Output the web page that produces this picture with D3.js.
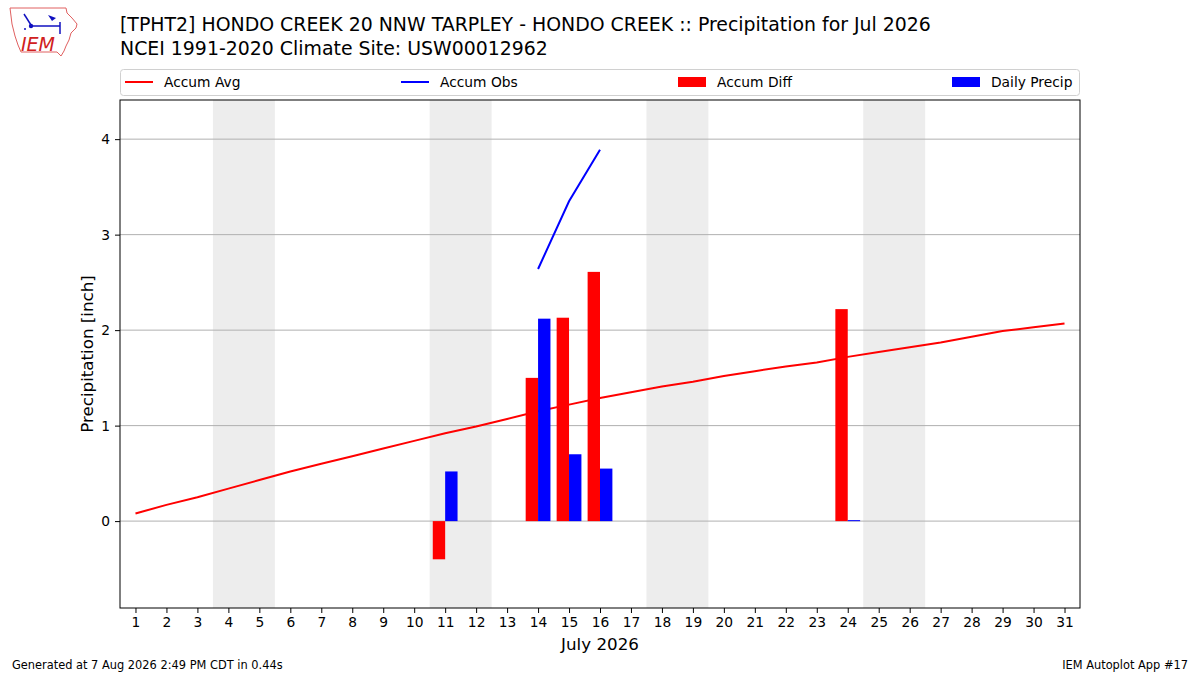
<!DOCTYPE html>
<html>
<head>
<meta charset="utf-8">
<script src="https://cdn.jsdelivr.net/npm/d3@7"></script>
<style>
  body { margin: 0; background: #fff; }
  svg text { font-family: "DejaVu Sans", sans-serif; }
</style>
</head>
<body>
<div id="chart"></div>
<script>
// days of July 2026
var days = d3.range(1, 32);
var accumAvg = [0.08, 0.17, 0.25, 0.34, 0.43, 0.52, 0.60, 0.68, 0.76, 0.84,
                0.92, 0.99, 1.07, 1.15, 1.22, 1.29, 1.35, 1.41, 1.46, 1.52,
                1.57, 1.62, 1.66, 1.72, 1.77, 1.82, 1.87, 1.93, 1.99, 2.03, 2.07];
var obsDays = [14, 15, 16];
var accumObs = [2.64, 3.35, 3.89];
var diffDays = [11, 14, 15, 16, 24];
var accumDiff = [-0.40, 1.50, 2.13, 2.61, 2.22];
var precipDays = [11, 14, 15, 16, 24];
var dailyPrecip = [0.52, 2.12, 0.70, 0.55, 0.01];
var weekends = [[4, 5], [11, 12], [18, 19], [25, 26]];
var yTicks = [0, 1, 2, 3, 4];

var width = 1200, height = 675;

var svg = d3.select("#chart").append("svg")
    .attr("width", width)
    .attr("height", height);

var x = d3.scaleLinear().domain([0.5, 31.5]).range([120, 1080]);
var y = d3.scaleLinear().domain([-0.91, 4.41]).range([608, 100]);

// weekend shading
svg.selectAll("rect.wkend")
    .data(weekends).enter()
    .append("rect")
    .attr("x", function(d) { return x(d[0] - 0.5); })
    .attr("width", function(d) { return x(d[1] + 0.5) - x(d[0] - 0.5); })
    .attr("y", y(4.41))
    .attr("height", y(-0.91) - y(4.41))
    .attr("fill", "#ededed");

// grid
svg.selectAll("line.grid")
    .data(yTicks).enter()
    .append("line")
    .attr("x1", 120).attr("x2", 1080)
    .attr("y1", function(d) { return y(d); })
    .attr("y2", function(d) { return y(d); })
    .attr("stroke", "#b0b0b0")
    .attr("stroke-width", 1);

// accum avg line
var line = d3.line()
    .x(function(d) { return x(d[0]); })
    .y(function(d) { return y(d[1]); });

svg.append("path")
    .datum(d3.zip(days, accumAvg))
    .attr("d", line)
    .attr("fill", "none")
    .attr("stroke", "#ff0000")
    .attr("stroke-width", 2);

// bars
var barW = 0.4;
svg.selectAll("rect.diff")
    .data(d3.zip(diffDays, accumDiff)).enter()
    .append("rect")
    .attr("x", function(d) { return x(d[0] - barW); })
    .attr("width", function(d) { return x(d[0]) - x(d[0] - barW); })
    .attr("y", function(d) { return y(Math.max(0, d[1])); })
    .attr("height", function(d) { return Math.abs(y(d[1]) - y(0)); })
    .attr("fill", "#ff0000");

svg.selectAll("rect.precip")
    .data(d3.zip(precipDays, dailyPrecip)).enter()
    .append("rect")
    .attr("x", function(d) { return x(d[0]); })
    .attr("width", function(d) { return x(d[0] + barW) - x(d[0]); })
    .attr("y", function(d) { return y(Math.max(0, d[1])); })
    .attr("height", function(d) { return Math.max(1, Math.abs(y(d[1]) - y(0))); })
    .attr("fill", "#0000ff");

// accum obs line
svg.append("path")
    .datum(d3.zip(obsDays, accumObs))
    .attr("d", line)
    .attr("fill", "none")
    .attr("stroke", "#0000ff")
    .attr("stroke-width", 2);

// frame
svg.append("rect")
    .attr("x", 120).attr("y", 100)
    .attr("width", 960).attr("height", 508)
    .attr("fill", "none")
    .attr("stroke", "#000")
    .attr("stroke-width", 1);

// axes
var xAxis = svg.append("g")
    .attr("transform", "translate(0,608)")
    .call(d3.axisBottom(x).tickValues(days).tickSize(5).tickPadding(4));
var yAxis = svg.append("g")
    .attr("transform", "translate(120,0)")
    .call(d3.axisLeft(y).tickValues(yTicks).tickFormat(d3.format("d"))
        .tickSize(5).tickPadding(5));
[xAxis, yAxis].forEach(function(g) {
    g.select(".domain").remove();
    g.selectAll("text").attr("font-size", 13.8).attr("fill", "#000")
        .attr("font-family", "DejaVu Sans");
    g.selectAll("line").attr("stroke", "#000");
});

svg.append("text")
    .attr("x", 600).attr("y", 650)
    .attr("text-anchor", "middle")
    .attr("font-size", 16.7)
    .text("July 2026");

svg.append("text")
    .attr("transform", "translate(93,354) rotate(-90)")
    .attr("text-anchor", "middle")
    .attr("font-size", 16.7)
    .text("Precipitation [inch]");

// titles
svg.append("text")
    .attr("x", 120).attr("y", 31)
    .attr("font-size", 18.9)
    .text("[TPHT2] HONDO CREEK 20 NNW TARPLEY - HONDO CREEK :: Precipitation for Jul 2026");
svg.append("text")
    .attr("x", 120).attr("y", 55)
    .attr("font-size", 18.9)
    .text("NCEI 1991-2020 Climate Site: USW00012962");

// legend
svg.append("rect")
    .attr("x", 120.5).attr("y", 69.5)
    .attr("width", 959).attr("height", 26)
    .attr("rx", 3)
    .attr("fill", "#fff")
    .attr("stroke", "#d0d0d0");

var legendItems = [
    {label: "Accum Avg", color: "#ff0000", type: "line", x: 125},
    {label: "Accum Obs", color: "#0000ff", type: "line", x: 401},
    {label: "Accum Diff", color: "#ff0000", type: "rect", x: 678},
    {label: "Daily Precip", color: "#0000ff", type: "rect", x: 952}
];
var lg = svg.selectAll("g.leg")
    .data(legendItems).enter()
    .append("g")
    .attr("transform", function(d) { return "translate(" + d.x + ",82)"; });
lg.filter(function(d) { return d.type == "line"; })
    .append("line")
    .attr("x1", 0).attr("x2", 28)
    .attr("stroke", function(d) { return d.color; })
    .attr("stroke-width", 2);
lg.filter(function(d) { return d.type == "rect"; })
    .append("rect")
    .attr("x", 0).attr("y", -5)
    .attr("width", 28).attr("height", 10)
    .attr("fill", function(d) { return d.color; });
lg.append("text")
    .attr("x", 39).attr("y", 5)
    .attr("font-size", 13.8)
    .text(function(d) { return d.label; });

// footer
svg.append("text")
    .attr("x", 12).attr("y", 669)
    .attr("font-size", 11.4)
    .text("Generated at 7 Aug 2026 2:49 PM CDT in 0.44s");
svg.append("text")
    .attr("x", 1188).attr("y", 669)
    .attr("text-anchor", "end")
    .attr("font-size", 11.4)
    .text("IEM Autoplot App #17");

// logo (rough)
var logo = svg.append("g");
logo.append("path")
    .attr("d", "M10,8 L66,8 L67,13 L72,18 L77,24 L76,28 L71,33 L69,40 L66,46 L64,51 L61,56 L57,52 L21,52 L18,45 L15,36 L12,24 Z")
    .attr("fill", "none")
    .attr("stroke", "#e06060")
    .attr("stroke-width", 1);
logo.append("text")
    .attr("x", 21).attr("y", 51)
    .attr("font-family", "Liberation Serif")
    .attr("font-style", "italic")
    .attr("font-size", 19)
    .attr("fill", "#d02020")
    .text("IEM");
logo.append("line").attr("x1", 30).attr("y1", 26).attr("x2", 60).attr("y2", 26)
    .attr("stroke", "#1010c0").attr("stroke-width", 1.5);
logo.append("line").attr("x1", 60).attr("y1", 22).attr("x2", 60).attr("y2", 34)
    .attr("stroke", "#1010c0").attr("stroke-width", 1.5);
logo.append("line").attr("x1", 24).attr("y1", 14).attr("x2", 31).attr("y2", 25)
    .attr("stroke", "#1010c0").attr("stroke-width", 1.5);
logo.append("circle").attr("cx", 31).attr("cy", 26).attr("r", 2.2).attr("fill", "#1010c0");
logo.append("path").attr("d", "M48,15 L56,18 L52,21 Z").attr("fill", "#1010c0");
logo.append("circle").attr("cx", 25).attr("cy", 29).attr("r", 1).attr("fill", "#1010c0");
</script>
</body>
</html>
